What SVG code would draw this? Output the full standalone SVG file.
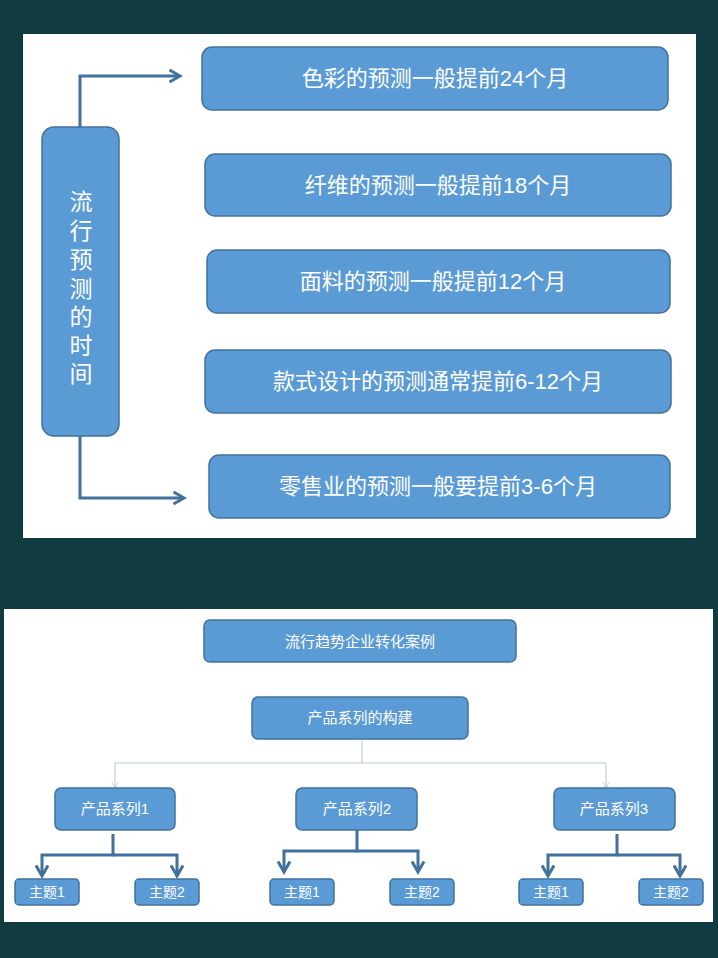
<svg xmlns="http://www.w3.org/2000/svg" width="718" height="958" viewBox="0 0 718 958">
<style>
.b{fill:#5b9bd5;stroke:#41719c;stroke-width:1.5}
.t{fill:#fff;font-family:"Liberation Sans","Noto Sans CJK SC",sans-serif;text-anchor:middle}
.c{fill:none;stroke:#41719c;stroke-width:3}
.thin{fill:none;stroke:#b4c7d7;stroke-width:1}
</style>
<defs>
<marker id="a" viewBox="0 0 10 10" refX="8" refY="5" markerWidth="5" markerHeight="5" orient="auto"><path d="M1 1L8 5L1 9" fill="none" stroke="#41719c" stroke-width="2"/></marker>
<marker id="s" viewBox="0 0 10 10" refX="8" refY="5" markerWidth="8" markerHeight="8" orient="auto"><path d="M1 1L8 5L1 9" fill="none" stroke="#b4c7d7" stroke-width="1"/></marker>
</defs>
<rect width="718" height="958" fill="#0f3b41"/>
<rect x="23" y="34" width="673" height="504" fill="#fff"/>
<rect x="4" y="609" width="709" height="313" fill="#fff"/>
<g id="connectors">
<path class="c" d="M80 127V76H180" marker-end="url(#a)"/>
<path class="c" d="M80 436V498H184" marker-end="url(#a)"/>
<path class="thin" d="M362 739V763H115V788" marker-end="url(#s)"/>
<path class="thin" d="M362 763H606V788" marker-end="url(#s)"/>
<path class="c" d="M113 834V855H42V876" marker-end="url(#a)"/>
<path class="c" d="M113 855H177V876" marker-end="url(#a)"/>
<path class="c" d="M357 830V851H284V872" marker-end="url(#a)"/>
<path class="c" d="M357 851H418V872" marker-end="url(#a)"/>
<path class="c" d="M617 834V855H548V876" marker-end="url(#a)"/>
<path class="c" d="M617 855H680V876" marker-end="url(#a)"/>
</g>
<g id="left"><rect class="b" x="42" y="127" width="77" height="309" rx="12"/>
<text class="t" font-size="23"><tspan x="81" y="210">流</tspan><tspan x="81" y="239">行</tspan><tspan x="81" y="268">预</tspan><tspan x="81" y="297">测</tspan><tspan x="81" y="325">的</tspan><tspan x="81" y="354">时</tspan><tspan x="81" y="382">间</tspan></text></g>
<g id="n1"><rect class="b" x="202" y="47" width="466" height="63" rx="10"/><text class="t" x="435" y="86" font-size="22">色彩的预测一般提前24个月</text></g>
<g id="n2"><rect class="b" x="205" y="154" width="466" height="62" rx="10"/><text class="t" x="438" y="193" font-size="22">纤维的预测一般提前18个月</text></g>
<g id="n3"><rect class="b" x="207" y="250" width="463" height="63" rx="10"/><text class="t" x="433" y="289" font-size="22">面料的预测一般提前12个月</text></g>
<g id="n4"><rect class="b" x="205" y="350" width="466" height="63" rx="10"/><text class="t" x="438" y="389" font-size="22">款式设计的预测通常提前6-12个月</text></g>
<g id="n5"><rect class="b" x="209" y="455" width="461" height="63" rx="10"/><text class="t" x="438" y="494" font-size="22">零售业的预测一般要提前3-6个月</text></g>
<g id="b0"><rect class="b" x="204" y="620" width="312" height="42" rx="6"/><text class="t" x="360" y="647" font-size="15">流行趋势企业转化案例</text></g>
<g id="b1"><rect class="b" x="252" y="697" width="216" height="42" rx="6"/><text class="t" x="360" y="723" font-size="15">产品系列的构建</text></g>
<g id="s1"><rect class="b" x="55" y="788" width="120" height="42" rx="6"/><text class="t" x="115" y="814" font-size="15">产品系列1</text></g>
<g id="s2"><rect class="b" x="296" y="788" width="121" height="42" rx="6"/><text class="t" x="357" y="814" font-size="15">产品系列2</text></g>
<g id="s3"><rect class="b" x="554" y="788" width="121" height="42" rx="6"/><text class="t" x="614" y="814" font-size="15">产品系列3</text></g>
<g id="t1"><rect class="b" x="15" y="879" width="64" height="26" rx="4"/><text class="t" x="47" y="897" font-size="14">主题1</text></g>
<g id="t2"><rect class="b" x="135" y="879" width="64" height="26" rx="4"/><text class="t" x="167" y="897" font-size="14">主题2</text></g>
<g id="t3"><rect class="b" x="270" y="879" width="64" height="26" rx="4"/><text class="t" x="302" y="897" font-size="14">主题1</text></g>
<g id="t4"><rect class="b" x="390" y="879" width="64" height="26" rx="4"/><text class="t" x="422" y="897" font-size="14">主题2</text></g>
<g id="t5"><rect class="b" x="519" y="879" width="64" height="26" rx="4"/><text class="t" x="551" y="897" font-size="14">主题1</text></g>
<g id="t6"><rect class="b" x="639" y="879" width="64" height="26" rx="4"/><text class="t" x="671" y="897" font-size="14">主题2</text></g>
</svg>
